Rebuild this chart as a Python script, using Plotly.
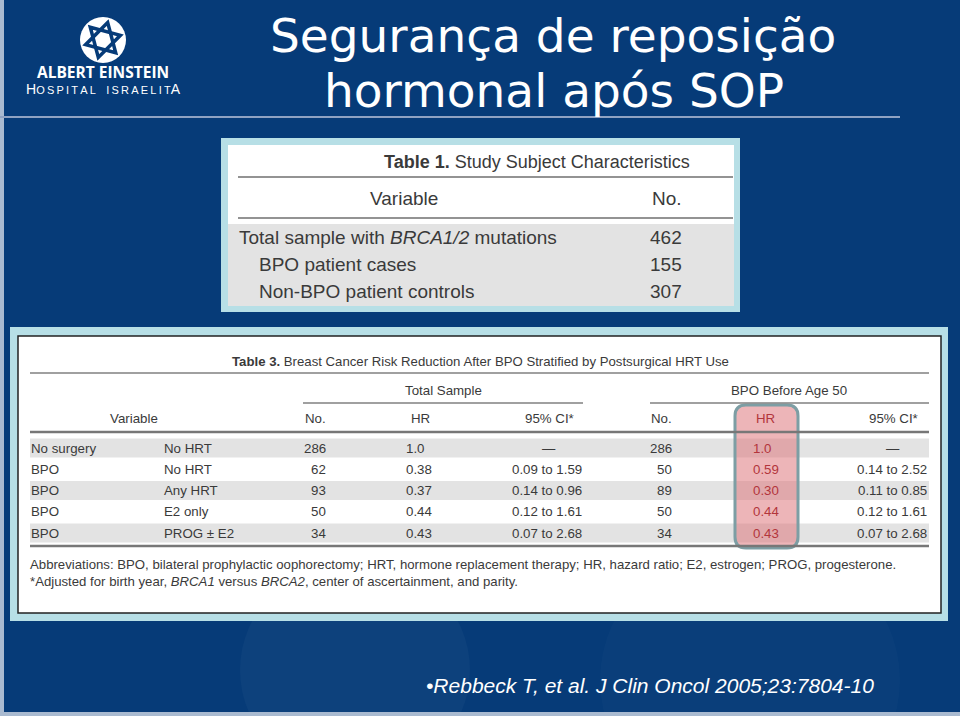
import math
import plotly.graph_objects as go

# ---------------- data ----------------
title_lines = ["Segurança de reposição", "hormonal após SOP"]
logo_top = "ALBERT EINSTEIN"
logo_bottom = ("H", "OSPITAL ISRAELIT", "A")

t1_title = ("Table 1.", "Study Subject Characteristics")
t1_headers = ["Variable", "No."]
t1_labels = ["Total sample with <i>BRCA1/2</i> mutations", "BPO patient cases", "Non-BPO patient controls"]
t1_indent = [0, 1, 1]
t1_counts = [462, 155, 307]

t3_title = ("Table 3.", "Breast Cancer Risk Reduction After BPO Stratified by Postsurgical HRT Use")
t3_groups = ["Total Sample", "BPO Before Age 50"]
t3_headers = ["Variable", "No.", "HR", "95% CI*", "No.", "HR", "95% CI*"]
t3_surgery = ["No surgery", "BPO", "BPO", "BPO", "BPO"]
t3_hrt = ["No HRT", "No HRT", "Any HRT", "E2 only", "PROG ± E2"]
total_no = [286, 62, 93, 50, 34]
total_hr = ["1.0", "0.38", "0.37", "0.44", "0.43"]
total_ci = ["—", "0.09 to 1.59", "0.14 to 0.96", "0.12 to 1.61", "0.07 to 2.68"]
age50_no = [286, 50, 89, 50, 34]
age50_hr = ["1.0", "0.59", "0.30", "0.44", "0.43"]
age50_ci = ["—", "0.14 to 2.52", "0.11 to 0.85", "0.12 to 1.61", "0.07 to 2.68"]
footnotes = [
    "Abbreviations: BPO, bilateral prophylactic oophorectomy; HRT, hormone replacement therapy; HR, hazard ratio; E2, estrogen; PROG, progesterone.",
    "*Adjusted for birth year, <i>BRCA1</i> versus <i>BRCA2</i>, center of ascertainment, and parity.",
]
citation = "•Rebbeck T, et al. J Clin Oncol 2005;23:7804-10"

# ---------------- style ----------------
W, H = 960, 716
BG = "#063b78"
FRAME = "#b7dfe6"
BAND = "#e3e3e3"
INK = "#3a3a3a"
RULE = "#808080"
HRRED = "#b3353c"
SANS = "Liberation Sans, Arial, sans-serif"
TITLE_FONT = "DejaVu Sans, Verdana, sans-serif"
T3 = 13.3   # table 3 text size
FN = 13.2   # footnote size

fig = go.Figure()
shapes = []
annos = []


def rect(x0, y0, x1, y1, fill, line=None, lw=0, layer="below"):
    shapes.append(dict(type="rect", xref="x", yref="y", x0=x0, y0=y0, x1=x1, y1=y1,
                       fillcolor=fill, line=dict(color=line or fill, width=lw), layer=layer))


def hline(x0, x1, y, color=RULE, width=1):
    shapes.append(dict(type="line", xref="x", yref="y", x0=x0, x1=x1, y0=y, y1=y,
                       line=dict(color=color, width=width), layer="above"))


def text(x, y, s, size, color=INK, family=SANS, xanchor="left", yanchor="middle"):
    annos.append(dict(x=x, y=y, xref="x", yref="y", text=s, showarrow=False,
                      xanchor=xanchor, yanchor=yanchor, borderpad=0,
                      font=dict(size=size, color=color, family=family)))


def rounded(x0, y0, x1, y1, r):
    return (f"M{x0+r},{y0} L{x1-r},{y0} Q{x1},{y0} {x1},{y0+r} L{x1},{y1-r} Q{x1},{y1} {x1-r},{y1} "
            f"L{x0+r},{y1} Q{x0},{y1} {x0},{y1-r} L{x0},{y0+r} Q{x0},{y0} {x0+r},{y0} Z")


# ---- background decoration ----
shapes.append(dict(type="circle", xref="x", yref="y", x0=240, y0=560, x1=470, y1=780,
                   fillcolor="rgba(255,255,255,0.03)", line=dict(width=0), layer="below"))
shapes.append(dict(type="circle", xref="x", yref="y", x0=600, y0=540, x1=900, y1=820,
                   fillcolor="rgba(255,255,255,0.02)", line=dict(width=0), layer="below"))
rect(0, 0, 4, H, "#a9bad0")
rect(0, H - 4, W, H, "#a9bad0")

# ---- logo ----
cx, cy, R = 103, 40, 23
shapes.append(dict(type="circle", xref="x", yref="y", x0=cx - R, y0=cy - R, x1=cx + R, y1=cy + R,
                   fillcolor="white", line=dict(width=0), layer="above"))
for rot in (-15, 45):
    pts = []
    for k in range(3):
        a = math.radians(rot + 90 + k * 120)
        pts.append((cx + 18 * math.cos(a), cy - 18 * math.sin(a)))
    p = "M" + " L".join(f"{px:.1f},{py:.1f}" for px, py in pts) + " Z"
    shapes.append(dict(type="path", xref="x", yref="y", path=p,
                       line=dict(color=BG, width=3.5), layer="above"))
text(103, 72, f"<b>{logo_top}</b>", 15.5, "white", "Open Sans, " + SANS, "center")
sp = "\u2009"
text(103, 89, logo_bottom[0] + f"<span style='font-size:11px'>{sp.join(logo_bottom[1]).replace(' ', '  ')}</span>" + logo_bottom[2],
     14, "white", SANS, "center")

# ---- title ----
text(553, 35, title_lines[0], 47, "white", TITLE_FONT, "center")
text(554, 90, title_lines[1], 47, "white", TITLE_FONT, "center")
hline(0, 900, 117, "#8fa2c2", 2)

# ---- table 1 ----
rect(221, 138, 740, 312, FRAME)
rect(228, 145, 734, 306, "white")
rect(228, 224, 734, 306, BAND)
text(383, 162, f"<b>{t1_title[0]}</b> {t1_title[1]}", 18, INK, SANS)
hline(238, 733, 177, "#6f6f6f", 1.5)
t1_cols = [404, 667]
for cxh, h in zip(t1_cols, t1_headers):
    text(cxh, 198, h, 19, INK, SANS, "center")
hline(238, 733, 218, "#6f6f6f", 1.5)
for i, (lab, ind, n) in enumerate(zip(t1_labels, t1_indent, t1_counts)):
    yy = 237 + i * 27
    text(238 + 20 * ind, yy, lab, 19, INK, SANS)
    text(666, yy, str(n), 19, INK, SANS, "center")

# ---- table 3 ----
rect(10, 327, 948, 621, FRAME)
rect(18, 336, 941, 613, "white", "#222222", 1.5)
for i in range(len(t3_surgery)):
    if i % 2 == 0:
        yy = 448 + i * 21.25
        rect(30, yy - 9.5, 929, yy + 9.5, BAND)

# highlight column
shapes.append(dict(type="path", xref="x", yref="y", path=rounded(735, 405, 798, 548, 11),
                   fillcolor="rgba(222,120,126,0.55)", line=dict(color="#7d9ea4", width=3),
                   layer="above"))

text(480, 361, f"<b>{t3_title[0]}</b> {t3_title[1]}", 13.2, INK, SANS, "center")
hline(30, 929, 373, RULE, 1.5)
group_centers = [443, 789]
group_spans = [(303, 583), (650, 929)]
for gcx, (g0, g1), g in zip(group_centers, group_spans, t3_groups):
    text(gcx, 390, g, T3, INK, SANS, "center")
    hline(g0, g1, 403, RULE, 1.5)
hdr_x = [134, 315, 420, 549, 661, 765, 893]
for k, (hx, h) in enumerate(zip(hdr_x, t3_headers)):
    col = HRRED if k == 5 else INK
    text(hx, 418, h, T3, col, SANS, "center")
hline(30, 929, 432, "#777777", 2.5)

col_surg, col_hrt = 30, 163
no1_r, hr1_l, ci1_r, ci1_c = 327, 405, 583, 549
no2_r, hr2_l, ci2_r, ci2_c = 673, 752, 928, 893
for i in range(len(t3_surgery)):
    yy = 448 + i * 21.25
    text(col_surg, yy, t3_surgery[i], T3, INK, SANS)
    text(col_hrt, yy, t3_hrt[i], T3, INK, SANS)
    text(no1_r, yy, str(total_no[i]), T3, INK, SANS, "right")
    text(hr1_l, yy, total_hr[i], T3, INK, SANS)
    if total_ci[i] == "—":
        text(ci1_c, yy, total_ci[i], T3, INK, SANS, "center")
    else:
        text(ci1_r, yy, total_ci[i], T3, INK, SANS, "right")
    text(no2_r, yy, str(age50_no[i]), T3, INK, SANS, "right")
    text(hr2_l, yy, age50_hr[i], T3, HRRED, SANS)
    if age50_ci[i] == "—":
        text(ci2_c, yy, age50_ci[i], T3, INK, SANS, "center")
    else:
        text(ci2_r, yy, age50_ci[i], T3, INK, SANS, "right")
hline(30, 929, 546, "#777777", 2.5)

for j, fn in enumerate(footnotes):
    text(29, 564 + j * 17.5, fn, FN, INK, SANS)

# ---- citation ----
text(425, 685, f"<i>{citation}</i>", 21, "white", SANS)

fig.update_layout(
    width=W, height=H, margin=dict(l=0, r=0, t=0, b=0),
    paper_bgcolor=BG, plot_bgcolor=BG, showlegend=False,
    xaxis=dict(range=[0, W], visible=False, fixedrange=True),
    yaxis=dict(range=[H, 0], visible=False, fixedrange=True),
    shapes=shapes, annotations=annos,
)

fig.write_html("out.html", post_script="document.body.style.margin='0';",
               config={"displayModeBar": False})
